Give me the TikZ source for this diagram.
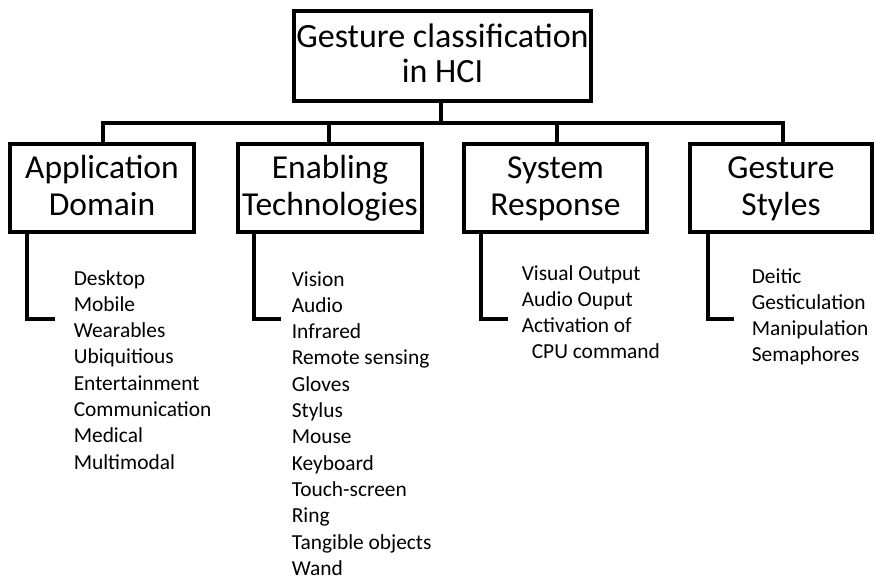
\documentclass[tikz,border=0pt]{standalone}
\usepackage{fontspec}
\setmainfont{Carlito}
% fixed-size strut so every two-line box title sits at the same height
\newcommand{\boxstrut}{\rule[-6.5pt]{0pt}{30.5pt}}
\begin{document}
\begin{tikzpicture}[x=1pt,y=-1pt,
  line width=3.6pt,
  box/.style={draw, rectangle, inner sep=0pt, align=center},
  bigtext/.style={font=\fontsize{33.5}{37}\selectfont},
  item/.style={inner sep=0pt, anchor=base west, font=\fontsize{21.4}{25}\selectfont},
  link/.style={line width=3.6pt}]
\useasboundingbox (0,0) rectangle (876,581);

% root
\node[box, font=\fontsize{34}{35}\selectfont, minimum width=297pt, minimum height=90pt] (root) at (442.5,56)
  {\boxstrut Gesture classification\\\boxstrut in HCI};

% categories
\node[box, bigtext, minimum width=184pt, minimum height=88pt] (c1) at (102,188) {\boxstrut Application\\\boxstrut Domain};
\node[box, bigtext, minimum width=184pt, minimum height=88pt] (c2) at (330,188) {\boxstrut Enabling\\\boxstrut Technologies};
\node[box, bigtext, minimum width=183pt, minimum height=88pt] (c3) at (555.5,188) {\boxstrut System\\\boxstrut Response};
\node[box, bigtext, minimum width=182pt, minimum height=88pt] (c4) at (781,188) {\boxstrut Gesture\\\boxstrut Styles};

% bus from root to categories
\coordinate (bus) at (441,123);
\draw[link] (root.south -| bus) -- (bus);
\draw[link] (bus) -| ([xshift=1pt]c1.north);
\draw[link] (bus) -| ([xshift=-1pt]c2.north);
\draw[link] (bus) -| ([xshift=1.5pt]c3.north);
\draw[link] (bus) -| ([xshift=2pt]c4.north);

% hooks under each category
\coordinate (h1) at (55,319);
\coordinate (h2) at (281,319);
\coordinate (h3) at (508,319);
\coordinate (h4) at (734,319);
\draw[link] ([xshift=19pt]c1.south west) |- (h1);
\draw[link] ([xshift=18pt]c2.south west) |- (h2);
\draw[link] ([xshift=19pt]c3.south west) |- (h3);
\draw[link] ([xshift=20pt]c4.south west) |- (h4);

% item lists
\foreach \t [count=\i] in {Desktop,Mobile,Wearables,Ubiquitious,Entertainment,Communication,Medical,Multimodal}
  \node[item] (a\i) at (72,{285+(\i-1)*26.3}) {\t};

\foreach \t [count=\i] in {Vision,Audio,Infrared,Remote sensing,Gloves,Stylus,Mouse,Keyboard,Touch-screen,Ring,Tangible objects,Wand}
  \node[item] (b\i) at (290,{286+(\i-1)*26.3}) {\t};

\foreach \t [count=\i] in {Visual Output,Audio Ouput,Activation of,\hspace*{10pt}CPU command}
  \node[item] (s\i) at (520,{280+(\i-1)*26.3}) {\t};

\foreach \t [count=\i] in {Deitic,Gesticulation,Manipulation,Semaphores}
  \node[item] (g\i) at (750,{283+(\i-1)*26.3}) {\t};
\end{tikzpicture}
\end{document}
